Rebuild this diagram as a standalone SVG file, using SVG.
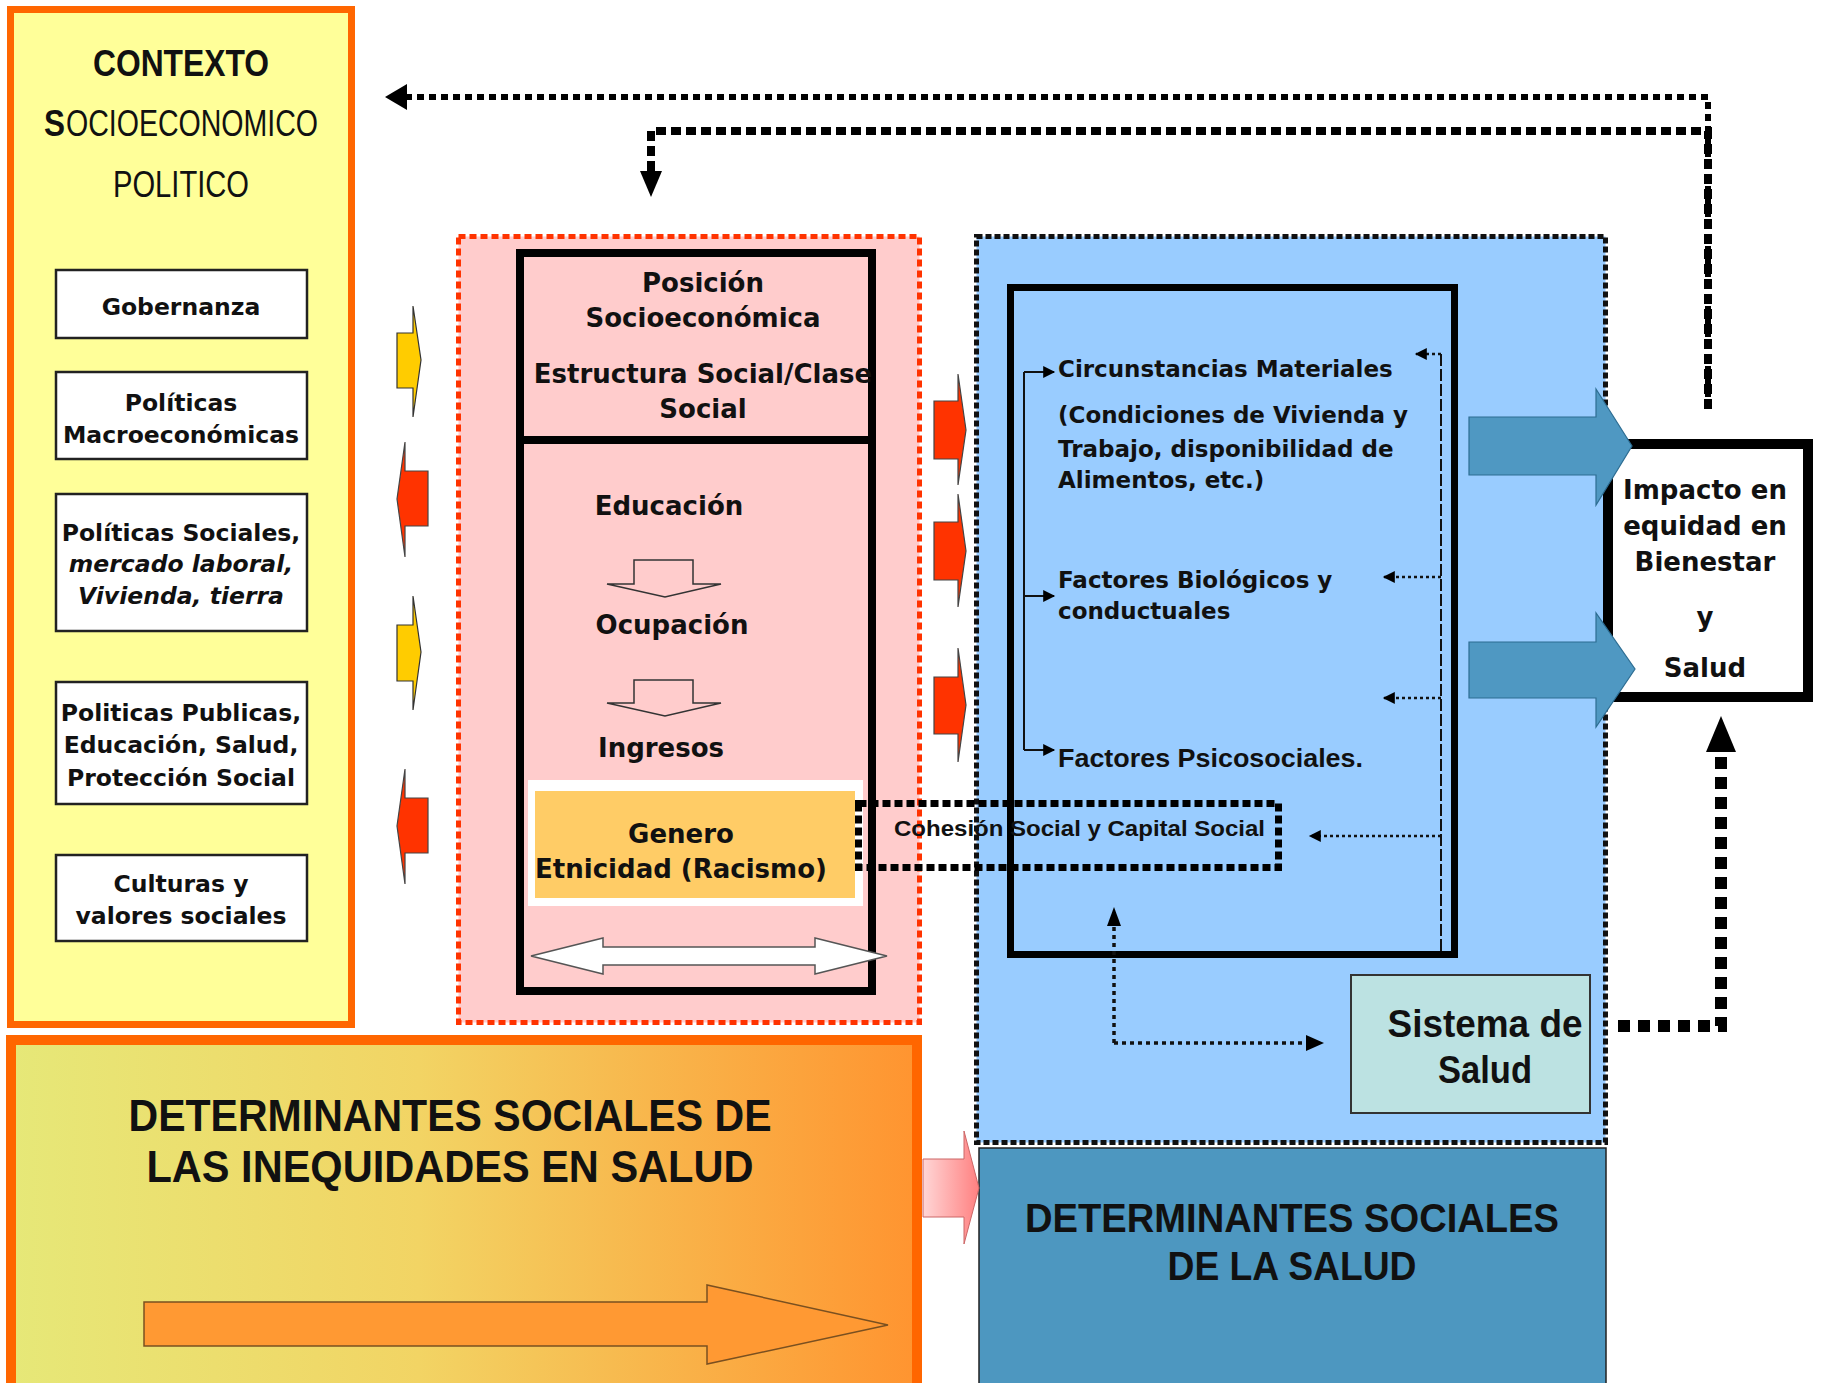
<svg xmlns="http://www.w3.org/2000/svg" width="1826" height="1383" viewBox="0 0 1826 1383">
<defs>
<style>
.v{font-family:"DejaVu Sans",Verdana,sans-serif;font-weight:bold;fill:#111}
.n{font-family:"Liberation Sans",Arial,sans-serif;fill:#111}
.c{text-anchor:middle}
.b{font-weight:bold}
.it{font-style:italic}
.wbox{fill:#fff;stroke:#222;stroke-width:2.5}
.yarr{fill:#FFCC00;stroke:#333;stroke-width:1.2}
.rarr{fill:#FF3300;stroke:#444;stroke-width:1.2}
.barr{fill:#4F98C2;stroke:#2d6d92;stroke-width:1.2}
.hol{fill:#FFCCCC;stroke:#333;stroke-width:1.5}
.thin{fill:none;stroke:#111;stroke-width:2}
.dot{fill:none;stroke:#111;stroke-width:2.5;stroke-dasharray:3 3}
.dot3{fill:none;stroke:#111;stroke-width:3.5;stroke-dasharray:4 4}
.head{fill:#000}
</style>
<linearGradient id="gOrange" x1="0" y1="0" x2="1" y2="0">
<stop offset="0" stop-color="#E6E878"/>
<stop offset="0.45" stop-color="#F2D464"/>
<stop offset="1" stop-color="#FF9430"/>
</linearGradient>
<linearGradient id="gPink" x1="0" y1="0" x2="1" y2="0">
<stop offset="0" stop-color="#FFD6D6"/>
<stop offset="1" stop-color="#FF8080"/>
</linearGradient>
<marker id="sm" viewBox="0 0 10 10" refX="9" refY="5" markerWidth="13" markerHeight="12" markerUnits="userSpaceOnUse" orient="auto"><path d="M0,0 L10,5 L0,10 z" fill="#000"/></marker>
</defs>
<rect width="1826" height="1383" fill="#fff"/>

<!-- Context box -->
<g id="contexto">
<rect x="10.5" y="9.5" width="341" height="1015" fill="#FFFF99" stroke="#FF6600" stroke-width="7"/>
<text class="n b c" x="181" y="76" font-size="37" textLength="176" lengthAdjust="spacingAndGlyphs">CONTEXTO</text>
<text class="n b" x="44" y="136" font-size="37" textLength="21" lengthAdjust="spacingAndGlyphs">S</text>
<text class="n" x="66" y="136" font-size="37" textLength="252" lengthAdjust="spacingAndGlyphs">OCIOECONOMICO</text>
<text class="n c" x="181" y="197" font-size="37" textLength="136" lengthAdjust="spacingAndGlyphs">POLITICO</text>
</g>
<g id="gobernanza">
<rect class="wbox" x="56" y="270" width="251" height="68"/>
<text class="v c" x="181" y="315" font-size="23.5">Gobernanza</text>
</g>
<g id="macro">
<rect class="wbox" x="56" y="372" width="251" height="87"/>
<text class="v c" x="181" y="411" font-size="23.5">Políticas</text>
<text class="v c" x="181" y="443" font-size="23.5">Macroeconómicas</text>
</g>
<g id="sociales">
<rect class="wbox" x="56" y="494" width="251" height="137"/>
<text class="v c" x="181" y="541" font-size="23.5">Políticas Sociales,</text>
<text class="v c it" x="181" y="572" font-size="23.5">mercado laboral,</text>
<text class="v c it" x="181" y="604" font-size="23.5">Vivienda, tierra</text>
</g>
<g id="publicas">
<rect class="wbox" x="56" y="682" width="251" height="122"/>
<text class="v c" x="181" y="721" font-size="23.5">Politicas Publicas,</text>
<text class="v c" x="181" y="753" font-size="23.5">Educación, Salud,</text>
<text class="v c" x="181" y="786" font-size="23.5">Protección Social</text>
</g>
<g id="culturas">
<rect class="wbox" x="56" y="855" width="251" height="86"/>
<text class="v c" x="181" y="892" font-size="23.5">Culturas y</text>
<text class="v c" x="181" y="924" font-size="23.5">valores sociales</text>
</g>

<!-- Bottom orange box -->
<g id="inequidades">
<rect x="11" y="1040" width="906" height="360" fill="url(#gOrange)" stroke="#FF6600" stroke-width="10"/>
<text class="n b c" x="450" y="1131" font-size="44" textLength="643" lengthAdjust="spacingAndGlyphs">DETERMINANTES SOCIALES DE</text>
<text class="n b c" x="450" y="1182" font-size="44" textLength="607" lengthAdjust="spacingAndGlyphs">LAS INEQUIDADES EN SALUD</text>
<polygon points="144,1302 707,1302 707,1285 888,1325 707,1364 707,1346 144,1346" fill="#FF9933" stroke="#7a5020" stroke-width="1.5"/>
</g>

<!-- Pink box -->
<g id="posicion">
<rect x="458.5" y="236.5" width="461" height="786" fill="#FFCCCC" stroke="#FF3300" stroke-width="5" stroke-dasharray="7 4"/>
<rect x="520" y="253" width="352" height="738" fill="none" stroke="#000" stroke-width="8"/>
<line x1="516" y1="440" x2="876" y2="440" stroke="#000" stroke-width="8"/>
<text class="v c" x="703" y="292" font-size="26">Posición</text>
<text class="v c" x="703" y="327" font-size="26">Socioeconómica</text>
<text class="v c" x="703" y="383" font-size="26">Estructura Social/Clase</text>
<text class="v c" x="703" y="418" font-size="26">Social</text>
<text class="v c" x="669" y="515" font-size="26">Educación</text>
<polygon class="hol" points="634,560 693,560 693,584 721,584 665,597 607,584 634,584"/>
<text class="v c" x="672" y="634" font-size="26">Ocupación</text>
<polygon class="hol" points="634,680 693,680 693,703 721,703 665,716 607,703 634,703"/>
<text class="v c" x="661" y="757" font-size="26">Ingresos</text>
</g>
<g id="genero">
<rect x="528" y="780" width="335" height="126" fill="#fff"/>
<rect x="535" y="791" width="320" height="107" fill="#FFCC66"/>
<text class="v c" x="681" y="843" font-size="26">Genero</text>
<text class="v c" x="681" y="878" font-size="26">Etnicidad (Racismo)</text>
</g>
<polygon id="doble" points="531,956 603,938 603,947 815,947 815,938 887,956 815,974 815,965 603,965 603,974" fill="#fff" stroke="#555" stroke-width="1.5"/>

<!-- Blue box -->
<g id="determinantes">
<rect x="976.5" y="236.5" width="629" height="906" fill="#99CCFF" stroke="#111" stroke-width="5" stroke-dasharray="6 3"/>
<rect x="1010.5" y="287.5" width="444" height="667" fill="none" stroke="#000" stroke-width="7"/>
<text class="v" x="1058" y="377" font-size="23">Circunstancias Materiales</text>
<text class="v" x="1058" y="423" font-size="23">(Condiciones de Vivienda y</text>
<text class="v" x="1058" y="457" font-size="23">Trabajo, disponibilidad de</text>
<text class="v" x="1058" y="488" font-size="23">Alimentos, etc.)</text>
<text class="v" x="1058" y="588" font-size="23">Factores Biológicos y</text>
<text class="v" x="1058" y="619" font-size="23">conductuales</text>
<text class="n b" x="1058" y="767" font-size="25" textLength="305" lengthAdjust="spacingAndGlyphs">Factores Psicosociales.</text>
</g>
<g id="sistema">
<rect x="1351" y="975" width="239" height="138" fill="#BCE2E2" stroke="#333" stroke-width="2"/>
<text class="n b c" x="1485" y="1037" font-size="38" textLength="195" lengthAdjust="spacingAndGlyphs">Sistema de</text>
<text class="n b c" x="1485" y="1083" font-size="38" textLength="94" lengthAdjust="spacingAndGlyphs">Salud</text>
</g>
<g id="dss">
<rect x="979" y="1148" width="627" height="250" fill="#4D97C0" stroke="#222" stroke-width="1.5"/>
<text class="n b c" x="1292" y="1232" font-size="40" textLength="534" lengthAdjust="spacingAndGlyphs">DETERMINANTES SOCIALES</text>
<text class="n b c" x="1292" y="1280" font-size="40" textLength="249" lengthAdjust="spacingAndGlyphs">DE LA SALUD</text>
</g>
<g id="cohesion">
<rect x="858.5" y="803.5" width="420" height="64" fill="none" stroke="#000" stroke-width="7" stroke-dasharray="8 4"/>
<text class="n b" x="894" y="836" font-size="22" textLength="371" lengthAdjust="spacingAndGlyphs">Cohesión Social y Capital Social</text>
</g>
<g id="impacto">
<rect x="1608" y="444" width="200" height="253" fill="#fff" stroke="#000" stroke-width="10"/>
<text class="v c" x="1705" y="499" font-size="26">Impacto en</text>
<text class="v c" x="1705" y="535" font-size="26">equidad en</text>
<text class="v c" x="1705" y="571" font-size="26">Bienestar</text>
<text class="v c" x="1705" y="626" font-size="26">y</text>
<text class="v c" x="1705" y="677" font-size="26">Salud</text>
</g>

<!-- Connectors -->
<g id="connectors">
<polygon class="yarr" points="397,333 413,333 413,306 421,360 413,417 413,388 397,388"/>
<polygon class="rarr" points="428,471 405,471 405,442 397,499 405,557 405,526 428,526"/>
<polygon class="yarr" points="397,625 413,625 413,596 421,652 413,710 413,681 397,681"/>
<polygon class="rarr" points="428,798 405,798 405,769 397,826 405,884 405,853 428,853"/>
<polygon class="rarr" points="934,401 958,401 958,374 966,430 958,485 958,459 934,459"/>
<polygon class="rarr" points="934,522 958,522 958,494 966,551 958,607 958,580 934,580"/>
<polygon class="rarr" points="934,677 958,677 958,648 966,705 958,762 958,734 934,734"/>
<polygon points="923,1159 964,1159 964,1131 979,1188 964,1244 964,1217 923,1217" fill="url(#gPink)" stroke="#c66" stroke-width="1"/>
<polygon class="barr" points="1469,417 1596,417 1596,389 1632,446 1596,505 1596,475 1469,475"/>
<polygon class="barr" points="1469,642 1596,642 1596,613 1635,669 1596,727 1596,698 1469,698"/>
<path class="thin" d="M1024,372 V750"/>
<line class="thin" x1="1024" y1="372" x2="1054" y2="372" marker-end="url(#sm)"/>
<line class="thin" x1="1024" y1="596" x2="1054" y2="596" marker-end="url(#sm)"/>
<line class="thin" x1="1024" y1="750" x2="1054" y2="750" marker-end="url(#sm)"/>
<line x1="1441" y1="354" x2="1441" y2="952" stroke="#111" stroke-width="2" stroke-dasharray="12 3"/>
<line class="dot" x1="1441" y1="354" x2="1416" y2="354" marker-end="url(#sm)"/>
<line class="dot" x1="1441" y1="577" x2="1384" y2="577" marker-end="url(#sm)"/>
<line class="dot" x1="1441" y1="698" x2="1384" y2="698" marker-end="url(#sm)"/>
<line class="dot" x1="1441" y1="836" x2="1310" y2="836" marker-end="url(#sm)"/>
<path class="dot3" d="M1114,1043 V912"/>
<polygon class="head" points="1114,907 1107,926 1121,926"/>
<path class="dot3" d="M1114,1043 H1308"/>
<polygon class="head" points="1324,1043 1306,1035 1306,1051"/>
<path d="M1708,409 V97 H404" fill="none" stroke="#000" stroke-width="6" stroke-dasharray="7 5"/>
<polygon class="head" points="385,97 407,84 407,110"/>
<path d="M1708,409 V131 H651 V172" fill="none" stroke="#000" stroke-width="8" stroke-dasharray="10 5"/>
<polygon class="head" points="651,197 640,171 662,171"/>
<path d="M1618,1026 H1721 V752" fill="none" stroke="#000" stroke-width="12" stroke-dasharray="12 8"/>
<polygon class="head" points="1721,716 1706,752 1736,752"/>
</g>
</svg>
